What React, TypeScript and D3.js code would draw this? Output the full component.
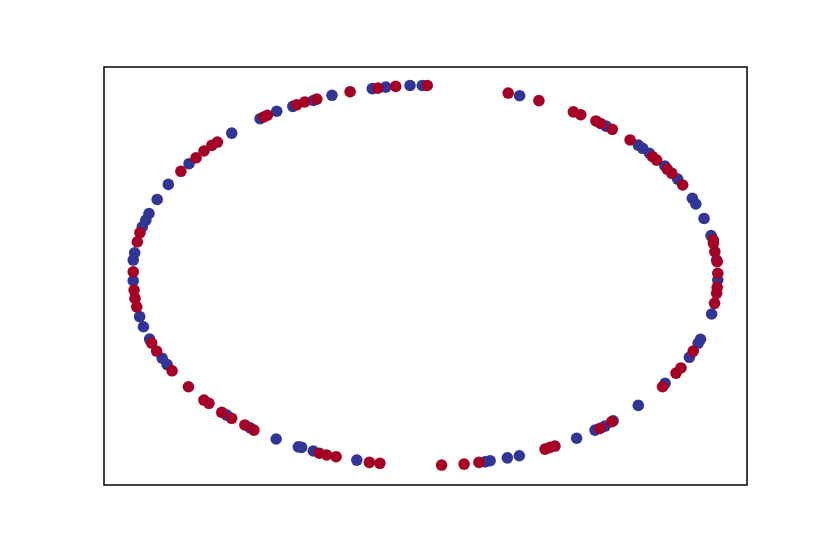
import React from "react";
import * as d3 from "d3";

// class 0 = blue, class 1 = red
const xs: number[] = [
  1.0, 1.0, 0.998, 0.996, 0.99, 0.985, 0.985, 0.977, 0.953, 0.925, 0.913, 0.88, 0.863, 0.843, 0.827, 0.819,
  0.791, 0.777, 0.766, 0.743, 0.728, 0.7, 0.639, 0.618, 0.599, 0.583, 0.531, 0.506, 0.388, 0.322, 0.283,
  0.006, -0.011, -0.053, -0.102, -0.136, -0.163, -0.182, -0.258, -0.32, -0.372, -0.384, -0.413, -0.441,
  -0.454, -0.509, -0.541, -0.553, -0.566, -0.663, -0.712, -0.731, -0.758, -0.785, -0.809, -0.837, -0.88,
  -0.918, -0.946, -0.957, -0.969, -0.977, -0.986, -0.995, -1.0, -1.0, -1.0, -0.997, -0.994, -0.988, -0.978,
  -0.965, -0.944, -0.937, -0.92, -0.901, -0.884, -0.867, -0.811, -0.758, -0.741, -0.697, -0.68, -0.663,
  -0.618, -0.6, -0.587, -0.511, -0.435, -0.424, -0.384, -0.363, -0.338, -0.306, -0.235, -0.192, -0.156,
  0.055, 0.132, 0.183, 0.204, 0.221, 0.28, 0.321, 0.409, 0.426, 0.443, 0.517, 0.58, 0.597, 0.614, 0.642,
  0.637, 0.728, 0.82, 0.811, 0.857, 0.874, 0.903, 0.916, 0.933, 0.941, 0.979, 0.989, 0.996, 0.998,
];
const ys: number[] = [
  -0.026, 0.009, 0.07, 0.079, 0.123, 0.167, 0.184, 0.208, 0.298, 0.374, 0.404, 0.474, 0.505, 0.535, 0.558,
  0.574, 0.605, 0.623, 0.641, 0.667, 0.684, 0.711, 0.767, 0.784, 0.798, 0.811, 0.844, 0.859, 0.918, 0.944,
  0.958, 0.998, 0.998, 0.998, 0.993, 0.989, 0.984, 0.981, 0.965, 0.946, 0.926, 0.919, 0.911, 0.896, 0.888,
  0.862, 0.841, 0.832, 0.823, 0.747, 0.7, 0.683, 0.653, 0.617, 0.586, 0.546, 0.477, 0.398, 0.324, 0.289,
  0.254, 0.223, 0.175, 0.117, 0.079, 0.017, -0.03, -0.079, -0.123, -0.167, -0.219, -0.272, -0.337, -0.358,
  -0.4, -0.438, -0.471, -0.504, -0.588, -0.658, -0.675, -0.723, -0.737, -0.754, -0.789, -0.804, -0.816,
  -0.863, -0.904, -0.907, -0.926, -0.938, -0.947, -0.956, -0.974, -0.986, -0.991, -1.0, -0.995, -0.986,
  -0.983, -0.977, -0.962, -0.951, -0.916, -0.907, -0.9, -0.859, -0.816, -0.807, -0.795, -0.767, -0.772,
  -0.686, -0.57, -0.588, -0.516, -0.489, -0.433, -0.4, -0.359, -0.338, -0.205, -0.149, -0.096, -0.065,
];
const labels: number[] = [
  0, 1, 1, 0, 1, 1, 1, 0, 0, 0, 0, 1, 0, 1, 1, 0,
  1, 1, 0, 0, 0, 1, 1, 0, 1, 1, 1, 1, 1, 0, 1,
  1, 0, 0, 1, 0, 1, 0, 1, 0, 1, 0, 1, 1,
  0, 0, 1, 1, 0, 0, 1, 1, 1, 1, 0, 1, 0,
  0, 0, 0, 0, 1, 1, 0, 0, 1, 0, 1, 1, 1, 0,
  0, 0, 1, 1, 0, 0, 1, 1, 1, 1, 1, 0, 1,
  1, 0, 1, 0, 0, 0, 0, 1, 1, 1, 0, 1, 1,
  1, 1, 1, 0, 0, 0, 0, 1, 1, 1, 0, 0, 1, 0, 0,
  1, 0, 0, 1, 1, 1, 0, 1, 0, 0, 0, 1, 1, 1,
];
const classColors: string[] = ["#313695", "#a50026"];

const W = 830;
const H = 554;
const L = 104, R = 747, T = 67, B = 485;

export default function App() {
  const x = d3.scaleLinear().domain([-1.1, 1.1]).range([L, R]);
  const y = d3.scaleLinear().domain([-1.105, 1.095]).range([B, T]);
  const pts = xs.map((v, i) => ({ x: v, y: ys[i], c: labels[i] }));
  const ordered = [...pts.filter((p) => p.c === 0), ...pts.filter((p) => p.c === 1)];
  return (
    <svg width={W} height={H} style={{ position: "absolute", left: 0, top: 0, background: "#fff" }}>
      <rect x={0} y={0} width={W} height={H} fill="#fff" />
      {ordered.map((p, i) => (
        <circle key={i} cx={x(p.x)} cy={y(p.y)} r={5.8} fill={classColors[p.c]} />
      ))}
      <rect x={L} y={T} width={R - L} height={B - T} fill="none" stroke="#000" strokeWidth={1.5} />
    </svg>
  );
}
